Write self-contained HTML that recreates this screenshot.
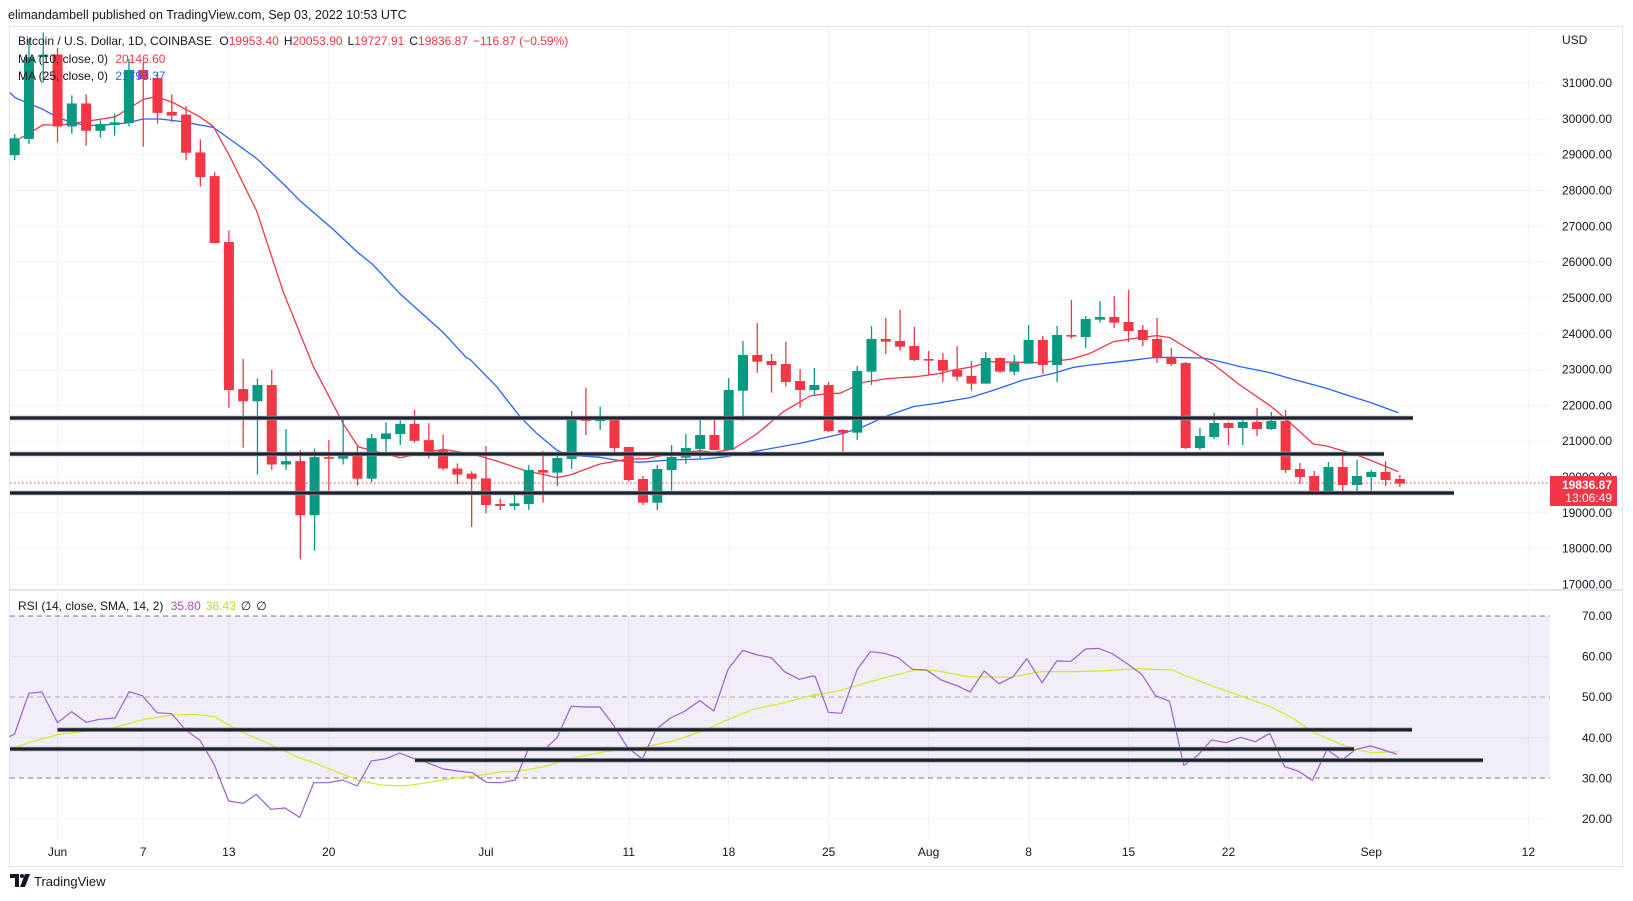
<!DOCTYPE html>
<html><head><meta charset="utf-8"><style>
html,body{margin:0;padding:0;background:#fff;width:1633px;height:901px;overflow:hidden}
svg{display:block;font-family:"Liberation Sans",sans-serif}
</style></head><body>
<svg id="s" width="1633" height="901" viewBox="0 0 1633 901" xmlns="http://www.w3.org/2000/svg">
<rect x="0" y="0" width="1633" height="901" fill="#fff"/>
<text x="8" y="19" font-size="12.5" fill="#131722">elimandambell published on TradingView.com, Sep 03, 2022 10:53 UTC</text>
<rect x="9.5" y="26.5" width="1613" height="840" fill="none" stroke="#e0e3eb"/>
<line x1="10" y1="590" x2="1622" y2="590" stroke="#e0e3eb" stroke-width="2"/>
<g id="grid"></g>
<rect x="10" y="616" width="1540" height="162" fill="#7e57c2" fill-opacity="0.1"/>
<g stroke="#787b86" stroke-dasharray="5,4" stroke-width="1">
<line x1="10" y1="616" x2="1550" y2="616"/><line x1="10" y1="697" x2="1550" y2="697" stroke-opacity="0.6"/><line x1="10" y1="778" x2="1550" y2="778"/>
</g>
<g id="ma"></g>
<g id="candles"></g>
<g id="hl"></g>
<line x1="10" y1="483" x2="1550" y2="483" stroke="#f23645" stroke-width="1" stroke-dasharray="1.5,2.5"/>
<g id="rsi"></g>
<g id="axis" font-size="12" fill="#131722"></g>
<text x="1562" y="44" font-size="12" fill="#131722">USD</text>
<rect x="1550" y="476" width="67" height="30" fill="#f23645"/>
<text x="1612" y="489" font-size="12" fill="#fff" font-weight="bold" text-anchor="end">19836.87</text>
<text x="1612" y="502" font-size="12" fill="#fff" text-anchor="end">13:06:49</text>
<g font-size="12">
<text x="18" y="45" fill="#131722">Bitcoin / U.S. Dollar, 1D, COINBASE <tspan dx="4">O</tspan><tspan fill="#f23645">19953.40</tspan><tspan dx="5">H</tspan><tspan fill="#f23645">20053.90</tspan><tspan dx="5">L</tspan><tspan fill="#f23645">19727.91</tspan><tspan dx="5">C</tspan><tspan fill="#f23645">19836.87</tspan><tspan dx="5" fill="#f23645">−116.87 (−0.59%)</tspan></text>
<text x="18" y="63" fill="#131722">MA (10, close, 0) <tspan dx="4" fill="#f23645">20146.60</tspan></text>
<text x="18" y="80" fill="#131722">MA (25, close, 0) <tspan dx="4" fill="#2962ff">21793.37</tspan></text>
<text x="18" y="610" fill="#131722">RSI (14, close, SMA, 14, 2) <tspan dx="4" fill="#ab47bc">35.80</tspan><tspan dx="5" fill="#c6d62a">36.43</tspan><tspan dx="5">∅</tspan><tspan dx="5">∅</tspan></text>
</g>
<g transform="translate(10,874)">
<path d="M0 0h9v13h-4v-9h-5z" fill="#131722"/><circle cx="12" cy="2" r="2" fill="#131722"/><path d="M15 0h5l-5 13h-5z" fill="#131722"/>
<text x="24" y="12" font-size="13" fill="#131722">TradingView</text>
</g>
</svg>
<script>
const NS="http://www.w3.org/2000/svg";
function el(p,t,a){const e=document.createElementNS(NS,t);for(const k in a)e.setAttribute(k,a[k]);p.appendChild(e);return e;}
const py=p=>83.1+(31000-p)*0.035809;
const ry=r=>616+(70-r)*4.06;
const xd=d=>57.5+14.28*d;
const grid=document.getElementById('grid');
for(let p=17000;p<=31000;p+=1000)el(grid,'line',{x1:10,x2:1550,y1:py(p),y2:py(p),stroke:'#f0f3fa'});
for(const r of [60,40,20])el(grid,'line',{x1:10,x2:1550,y1:ry(r),y2:ry(r),stroke:'#f0f3fa'});
const ticks=[[0,'Jun'],[6,'7'],[12,'13'],[19,'20'],[30,'Jul'],[40,'11'],[47,'18'],[54,'25'],[61,'Aug'],[68,'8'],[75,'15'],[82,'22'],[92,'Sep'],[103,'12']];
const ax=document.getElementById('axis');
for(const [d,l] of ticks){el(grid,'line',{x1:xd(d),x2:xd(d),y1:27,y2:840,stroke:'#f0f3fa'});const t=el(ax,'text',{x:xd(d),y:856,'text-anchor':'middle'});t.textContent=l;}
for(let p=17000;p<=31000;p+=1000){const t=el(ax,'text',{x:1612,y:py(p)+4,'text-anchor':'end'});t.textContent=p.toFixed(2);}
for(const r of [70,60,50,40,30,20]){const t=el(ax,'text',{x:1612,y:ry(r)+4,'text-anchor':'end'});t.textContent=r.toFixed(2);}
// candles
const z1=v=>25+v/2.958, z2=v=>270+v/3;
const c1=[['G',322,335,385,400],['G',40,95,337,352],['G',22,88,95,170],['R',68,87,300,348],['G',208,232,300,322],['R',205,232,313,357],['G',282,293,313,333],['G',262,288,296,327],['G',100,133,290,300],['R',110,133,160,360],['R',140,157,260,292],['R',205,257,268,287],['R',240,265,378,400],['R',338,377,450,478],['R',435,447,645,645],['R',608,642,1080,1132],['R',988,1077,1113,1250],['G',1045,1065,1113,1330],['R',1020,1065,1300,1316],['G',1195,1290,1300,1316],['R',1257,1290,1450,1580],['G',1253,1278,1450,1555],['R',1228,1278,1283,1378],['G',1157,1263,1283,1300],['R',1245,1263,1342,1362],['G',1210,1222,1342,1352],['G',1175,1208,1225,1262],['G',1170,1180,1210,1242],['R',1138,1180,1230,1236],['R',1178,1228,1262,1282],['R',1212,1258,1312,1318],['R',1297,1312,1330,1358],['R',1320,1327,1342,1485]];
const c2=[['R',528,625,705,730],['R',685,702,708,720],['G',663,700,708,720],['G',585,600,702,720],['R',543,600,608,698],['G',552,564,608,648],['G',423,447,567,597],['R',353,447,453,495],['G',410,449,453,480],['R',450,450,534,550],['R',530,531,630,635],['R',618,627,698,705],['G',585,597,698,720],['G',525,561,600,662],['G',492,534,563,582],['G',450,495,537,568],['R',441,495,540,540],['G',324,360,540,540],['G',213,255,362,452],['R',159,255,275,308],['R',252,273,285,368],['R',216,282,336,350],['R',297,333,360,413],['G',294,345,360,378],['R',336,345,483,486],['R',477,480,488,546],['G',288,303,488,510],['G',168,207,305,345],['R',144,207,215,252],['R',120,213,230,242],['R',171,228,270,273],['R',243,267,272,315],['R',249,270,302,336],
['R',228,300,320,333],['R',273,318,341,362],['G',246,264,341,341],['R',262,264,305,308],['G',255,279,305,316],['G',165,210,281,281],['R',198,210,285,312],['G',168,195,285,336],['R',90,195,200,206],['G',138,147,201,234],['G',93,141,149,158],['R',78,141,158,174],['R',60,156,183,216],['R',165,180,210,228],['R',144,207,264,279],['R',234,261,282,288],['R',276,279,534,537],['G',474,498,534,540],['G',429,459,501,507],['R',456,459,474,525],['G',441,456,474,525],['R',414,456,477,498],['G',426,453,477,480],['R',420,453,600,609],['R',579,597,621,642],['R',603,618,672,675],['G',576,591,672,672],['R',555,591,645,672],['G',570,618,645,670],['G',600,606,621,670],['R',573,606,630,648],['R',615,627,641,651]];
const cg=document.getElementById('candles');
const all=c1.map(c=>[c[0],z1(c[1]),z1(c[2]),z1(c[3]),z1(c[4])]).concat(c2.map(c=>[c[0],z2(c[1]),z2(c[2]),z2(c[3]),z2(c[4])]));
all.forEach((c,j)=>{const x=14.7+14.28*j;const col=c[0]=='G'?'#089981':'#f23645';
el(cg,'line',{x1:x,x2:x,y1:c[1],y2:c[4],stroke:col,'stroke-width':1.3});
el(cg,'rect',{x:x-5,y:c[2],width:10,height:Math.max(1.5,c[3]-c[2]),fill:col});});
// MA lines
function poly(g,pts,col,w){el(g,'polyline',{points:pts.map(p=>p.join(',')).join(' '),fill:'none',stroke:col,'stroke-width':w,'stroke-linejoin':'round'});}
const m1=(a)=>a.map(p=>[p[0]/3,z1(p[1])]), m2=(a)=>a.map(p=>[470+p[0]/3,z2(p[1])]), m3=(a)=>a.map(p=>[940+p[0]/3,z2(p[1])]);
const ma=document.getElementById('ma');
const red=m1([[60,335],[70,330],[130,295],[175,297],[260,285],[345,272],[430,220],[470,212],[520,230],[600,272],[640,300],[690,390],[770,550],[850,790],[940,1010],[1030,1180],[1075,1248],[1200,1280],[1330,1255],[1420,1270]])
.concat(m2([[0,550],[80,573],[160,600],[260,623],[300,615],[390,582],[470,568],[530,566],[600,552],[690,542],[730,547],[790,537],[860,492],[940,425],[1020,378],[1070,371],[1110,370],[1180,337],[1250,326],[1340,320],[1420,309]]))
.concat(m3([[0,310],[40,300],[100,290],[150,275],[250,277],[300,278],[390,268],[450,250],[520,215],[600,203],[650,197],[690,203],[820,283],[900,345],[990,407],[1030,440],[1120,522],[1160,528],[1250,555],[1290,570],[1375,605]]));
const blue=m1([[30,200],[45,215],[130,250],[170,272],[220,290],[260,297],[300,297],[380,290],[430,278],[480,278],[540,285],[640,303],[700,345],[770,395],[850,470],[900,520],[1000,605],[1070,670],[1120,710],[1200,795],[1330,910],[1400,985]])
.concat(m2([[0,268],[80,350],[150,440],[200,490],[260,540],[290,555],[390,562],[450,572],[510,577],[600,570],[700,567],[770,560],[850,545],[1000,518],[1120,490],[1180,470],[1250,438],[1330,410],[1420,397]]))
.concat(m3([[0,398],[90,383],[150,364],[250,330],[340,310],[400,292],[450,285],[540,275],[640,263],[690,262],[790,264],[820,270],[900,290],[990,308],[1060,328],[1160,355],[1220,375],[1290,397],[1375,428]]));
poly(ma,blue,'#2962ff',1.3);poly(ma,red,'#f23645',1.3);
// horizontal lines
const hl=document.getElementById('hl');
function hline(x1,x2,y){el(hl,'line',{x1,x2,y1:y,y2:y,stroke:'#9598a1','stroke-width':4.5});el(hl,'line',{x1,x2,y1:y,y2:y,stroke:'#1e222d','stroke-width':3});}
hline(10,1413,418);hline(10,1384,454);hline(10,1454,493);
// RSI
const rg=document.getElementById('rsi');
const r5=a=>a.map(p=>[p[0]/1.912,580+p[1]/3]), r6=a=>a.map(p=>[810+p[0]/1.905,580+p[1]/3]);
const rsi=r5([[18,470],[28,462],[55,340],[80,336],[110,428],[137,395],[165,427],[190,418],[220,414],[247,335],[272,347],[300,398],[328,401],[355,450],[383,482],[410,555],[437,663],[465,670],[490,643],[518,688],[545,684],[573,712],[600,608],[628,608],[655,600],[683,618],[710,543],[738,536],[764,519],[790,535],[820,550],[848,567],[875,573],[903,578],[930,607],[958,608],[985,600],[1010,509],[1040,510],[1065,473],[1092,379],[1120,381],[1147,381],[1175,440],[1200,503],[1228,537],[1255,447],[1282,414],[1310,393],[1338,362],[1365,393],[1392,268],[1420,211],[1448,225],[1475,233],[1500,275],[1528,298],[1555,288]])
.concat(r6([[10,290],[35,397],[60,400],[90,268],[115,215],[142,220],[168,233],[195,268],[222,270],[250,300],[280,317],[305,336],[332,273],[360,311],[387,290],[413,236],[442,308],[470,243],[497,244],[525,207],[550,205],[577,222],[605,252],[632,283],[658,347],[685,364],[712,556],[738,527],[765,480],[793,488],[820,472],[848,485],[876,460],[904,560],[930,573],[957,601],[985,509],[1013,540],[1040,508],[1068,498],[1093,510],[1118,523]]));
const sma=r5([[18,510],[55,488],[110,464],[220,442],[275,418],[330,405],[375,403],[410,410],[460,455],[510,488],[570,532],[600,548],[650,580],[690,603],[730,615],[770,618],[800,612],[860,597],[930,583],[960,575],[990,574],[1040,560],[1100,532],[1160,514],[1230,502],[1290,482],[1340,455],[1390,420],[1440,388],[1500,368],[1560,343]])
.concat(r6([[0,350],[60,330],[110,307],[150,290],[200,270],[240,272],[300,290],[380,292],[440,275],[500,275],[560,272],[620,266],[690,270],[720,290],[770,320],[810,342],[880,382],[920,415],[960,458],[1010,492],[1040,508],[1070,518],[1120,515]]));
poly(rg,sma,'#d4e830',1.3);poly(rg,rsi,'#9c5fd0',1.2);
function hl2(x1,x2,y){el(rg,'line',{x1,x2,y1:y,y2:y,stroke:'#9598a1','stroke-width':4.5});el(rg,'line',{x1,x2,y1:y,y2:y,stroke:'#1e222d','stroke-width':3});}
hl2(57.5,1412,729.7);hl2(10,1354,749);hl2(415,1483,760.3);
</script>
</body></html>
